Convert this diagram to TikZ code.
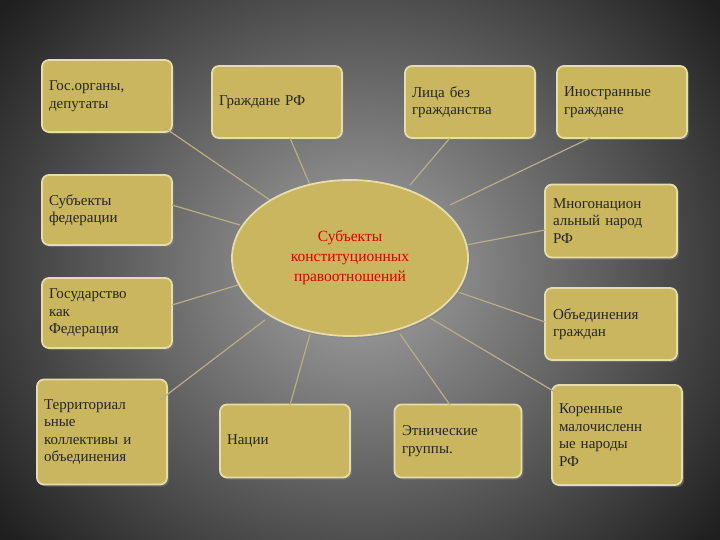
\documentclass[tikz,border=0pt]{standalone}
\usepackage{fontspec}
\setmainfont{Liberation Serif}
\usetikzlibrary{shapes.geometric,shadows}
\definecolor{boxfill}{HTML}{C9B65E}
\definecolor{boxline}{HTML}{E6DDAA}
\definecolor{conn}{HTML}{B8AE86}
\begin{document}
\begin{tikzpicture}[x=1pt,y=-1pt,
  bx/.style={draw=boxline,line width=1.8pt,fill=boxfill,rounded corners=7pt,
    minimum width=130pt,minimum height=72pt,font=\fontsize{15}{17.5}\selectfont,
    text width=116pt,align=left,
    text=black!85,drop shadow={opacity=0.5,shadow xshift=2pt,shadow yshift=-2pt}},
  cn/.style={draw=conn,line width=1.2pt}]
\useasboundingbox (0,0) rectangle (720,540);
\begin{scope}
\clip (0,0) rectangle (720,540);
\shade[inner color=gray!70,outer color=black!88] (-100,-150) rectangle (820,690);
\end{scope}
\node[bx] (b1) at (107,96) {Гос.органы,\\депутаты\\[16pt]};
\node[bx] (b2) at (277,102) {Граждане РФ};
\node[bx] (b3) at (470,102) {Лица без\\гражданства};
\node[bx] (b4) at (622,102) {Иностранные\\граждане};
\node[bx,minimum height=70pt] (b5) at (107,210) {Субъекты\\федерации\\[16pt]};
\node[bx,minimum height=70pt] (b6) at (107,313) {Государство\\как\\Федерация};
\node[bx,minimum height=105pt] (b7) at (102,432) {Территориал\\ьные\\коллективы и\\объединения};
\node[bx,minimum height=73pt] (b8) at (285,441) {Нации};
\node[bx,text width=112pt,minimum height=73pt,minimum width=127pt] (b9) at (458,441) {Этнические\\группы.};
\node[bx,minimum width=132pt,minimum height=73pt] (b10) at (611,221) {Многонацион\\альный народ\\РФ};
\node[bx,minimum width=132pt,minimum height=72pt] (b11) at (611,324) {Объединения\\граждан};
\node[bx,minimum height=100pt] (b12) at (617,435) {Коренные\\малочисленн\\ые народы\\РФ};
\foreach \b/\px/\py in {b1/165/128,b2/290/138,b3/450/138,b4/590/138,b5/172/205,b6/172/305,b7/160/400,b8/290/405,b9/450/405,b10/545/230,b11/545/322,b12/555/392}{
  \coordinate (\b p) at (\px,\py);}
\draw[cn] (b1p) -- (270,200);
\draw[cn] (b2p) -- (310,185);
\draw[cn] (b3p) -- (410,185);
\draw[cn] (b4p) -- (450,205);
\draw[cn] (b5p) -- (240,225);
\draw[cn] (b6p) -- (238,285);
\draw[cn] (b7p) -- (265,320);
\draw[cn] (b8p) -- (310,334);
\draw[cn] (b9p) -- (400,334);
\draw[cn] (b10p) -- (466,245);
\draw[cn] (b11p) -- (458,292);
\draw[cn] (b12p) -- (430,318);
\node[ellipse,draw=boxline,line width=1.8pt,fill=boxfill,minimum width=236pt,minimum height=156pt,
  align=center,text=red!85!black,font=\fontsize{15.5}{20}\selectfont,
  drop shadow={opacity=0.5,shadow xshift=2pt,shadow yshift=-2pt}] (c) at (350,258)
  {Субъекты\\конституционных\\правоотношений};
\end{tikzpicture}
\end{document}
